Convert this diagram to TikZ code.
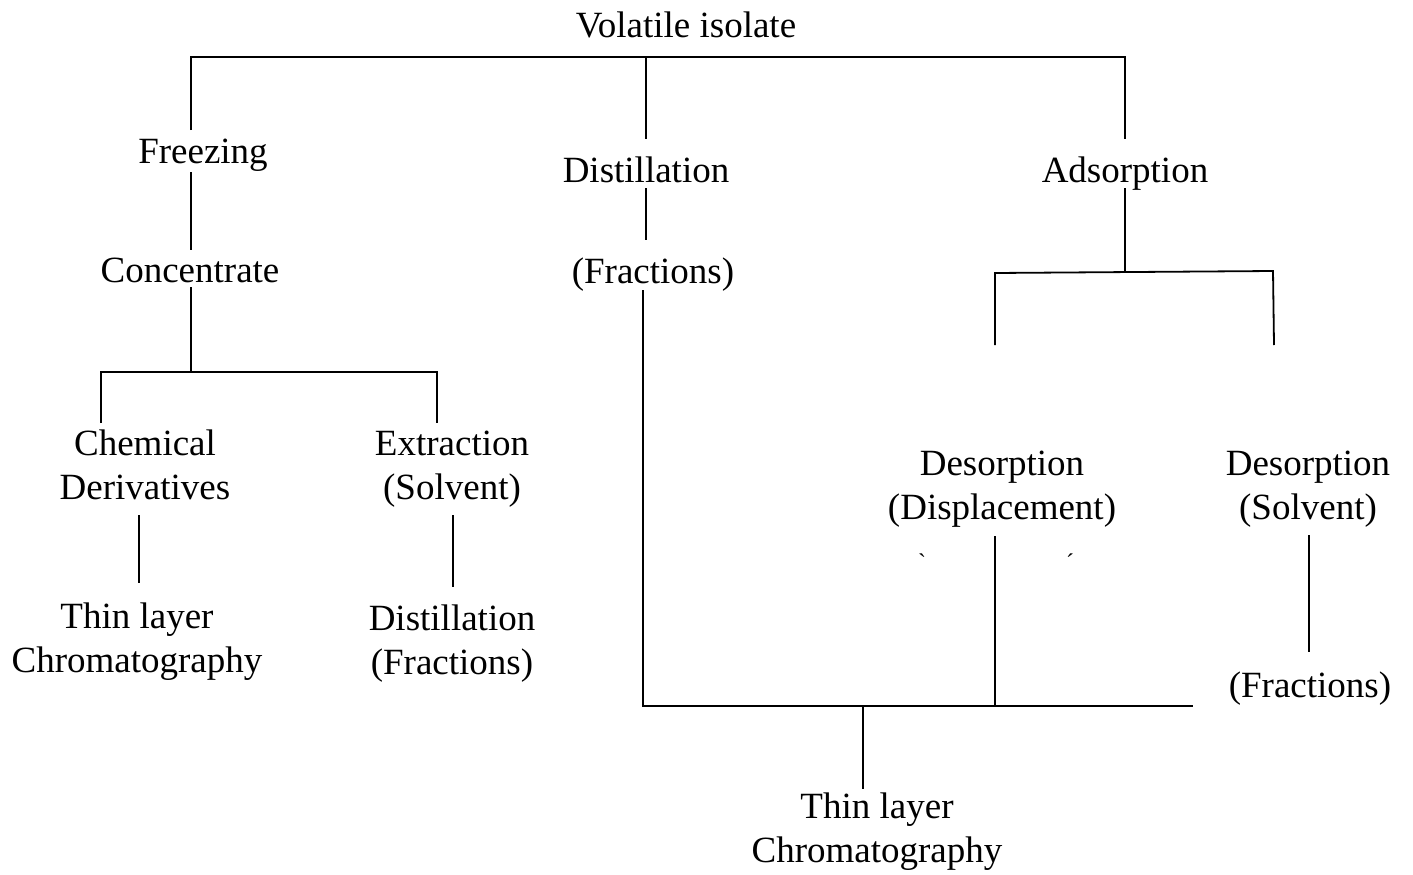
\documentclass[tikz,border=0pt]{standalone}
\usepackage{fontspec}
\setmainfont{Liberation Serif}
\newfontfamily\rawserif{Liberation Serif}
\tikzset{
  lbl/.style={anchor=base, inner sep=0pt, font=\fontsize{37}{44}\selectfont, align=center},
  tick/.style={inner sep=0pt, font=\rawserif\fontsize{24}{28}\selectfont},
  ln/.style={line width=1.8pt, line cap=butt, line join=miter}
}
\begin{document}
\begin{tikzpicture}[x=1pt, y=-1pt]
\useasboundingbox (0,0) rectangle (1413,875);
% labels (multi-line nodes: base = baseline of last line)
\node[lbl] (vol)   at (686,38)  {Volatile isolate};
\node[lbl] (frz)   at (203,163) {Freezing};
\node[lbl] (dis)   at (646,182) {Distillation};
\node[lbl] (ads)   at (1125,182) {Adsorption};
\node[lbl] (conc)  at (190,282) {Concentrate};
\node[lbl] (frac1) at (653,283) {(Fractions)};
\node[lbl] (chem)  at (145,499) {Chemical\\Derivatives};
\node[lbl] (extr)  at (452,499) {Extraction\\(Solvent)};
\node[lbl] (tlc1)  at (137,672) {Thin layer\\Chromatography};
\node[lbl] (dist2) at (452,674) {Distillation\\(Fractions)};
\node[lbl] (desd)  at (1002,519) {Desorption\\(Displacement)};
\node[lbl] (dess)  at (1308,519) {Desorption\\(Solvent)};
\node[lbl] (frac2) at (1310,697) {(Fractions)};
\node[lbl] (tlc2)  at (877,862) {Thin layer\\Chromatography};
\node[tick] (tk1) at (922,562) {`};
\node[tick] (tk2) at (1070,562) {\char"B4};
% junction coordinates
\coordinate (tL) at (191,57);
\coordinate (tM) at (646,57);
\coordinate (tR) at (1125,57);
\coordinate (frzN) at (191,130);
\coordinate (frzS) at (191,172);
\coordinate (concN) at (191,250);
\coordinate (disN) at (646,139);
\coordinate (disS) at (646,188);
\coordinate (frac1N) at (646,240);
\coordinate (adsN) at (1125,139);
\coordinate (adsS) at (1125,188);
\coordinate (aJ) at (1125,272);
\coordinate (aL) at (995,273);
\coordinate (aR) at (1273,271);
\coordinate (aLb) at (995,345);
\coordinate (aRb) at (1274,345);
\coordinate (concS) at (191,287);
\coordinate (cJ) at (191,372);
\coordinate (cL) at (101,372);
\coordinate (cR) at (437,372);
\coordinate (chemN) at (101,423);
\coordinate (extrN) at (437,423);
\coordinate (chemS) at (139,515);
\coordinate (tlc1N) at (139,583);
\coordinate (extrS) at (453,515);
\coordinate (dist2N) at (453,587);
\coordinate (frac1S) at (643,290);
\coordinate (bL) at (643,706);
\coordinate (bM) at (863,706);
\coordinate (bD) at (995,706);
\coordinate (bR) at (1193,706);
\coordinate (tlc2N) at (863,789);
\coordinate (desdS) at (995,536);
\coordinate (dessS) at (1309,535);
\coordinate (frac2N) at (1309,652);
% connectors
\draw[ln] (frzN) -- (tL) -- (tR) -- (adsN);
\draw[ln] (tM) -- (disN);
\draw[ln] (frzS) -- (concN);
\draw[ln] (disS) -- (frac1N);
\draw[ln] (adsS) -- (aJ);
\draw[ln] (aLb) -- (aL) -- (aR) -- (aRb);
\draw[ln] (concS) -- (cJ);
\draw[ln] (chemN) -- (cL) -- (cR) -- (extrN);
\draw[ln] (chemS) -- (tlc1N);
\draw[ln] (extrS) -- (dist2N);
\draw[ln] (frac1S) -- (bL) -- (bR);
\draw[ln] (bM) -- (tlc2N);
\draw[ln] (desdS) -- (bD);
\draw[ln] (dessS) -- (frac2N);
\end{tikzpicture}
\end{document}
